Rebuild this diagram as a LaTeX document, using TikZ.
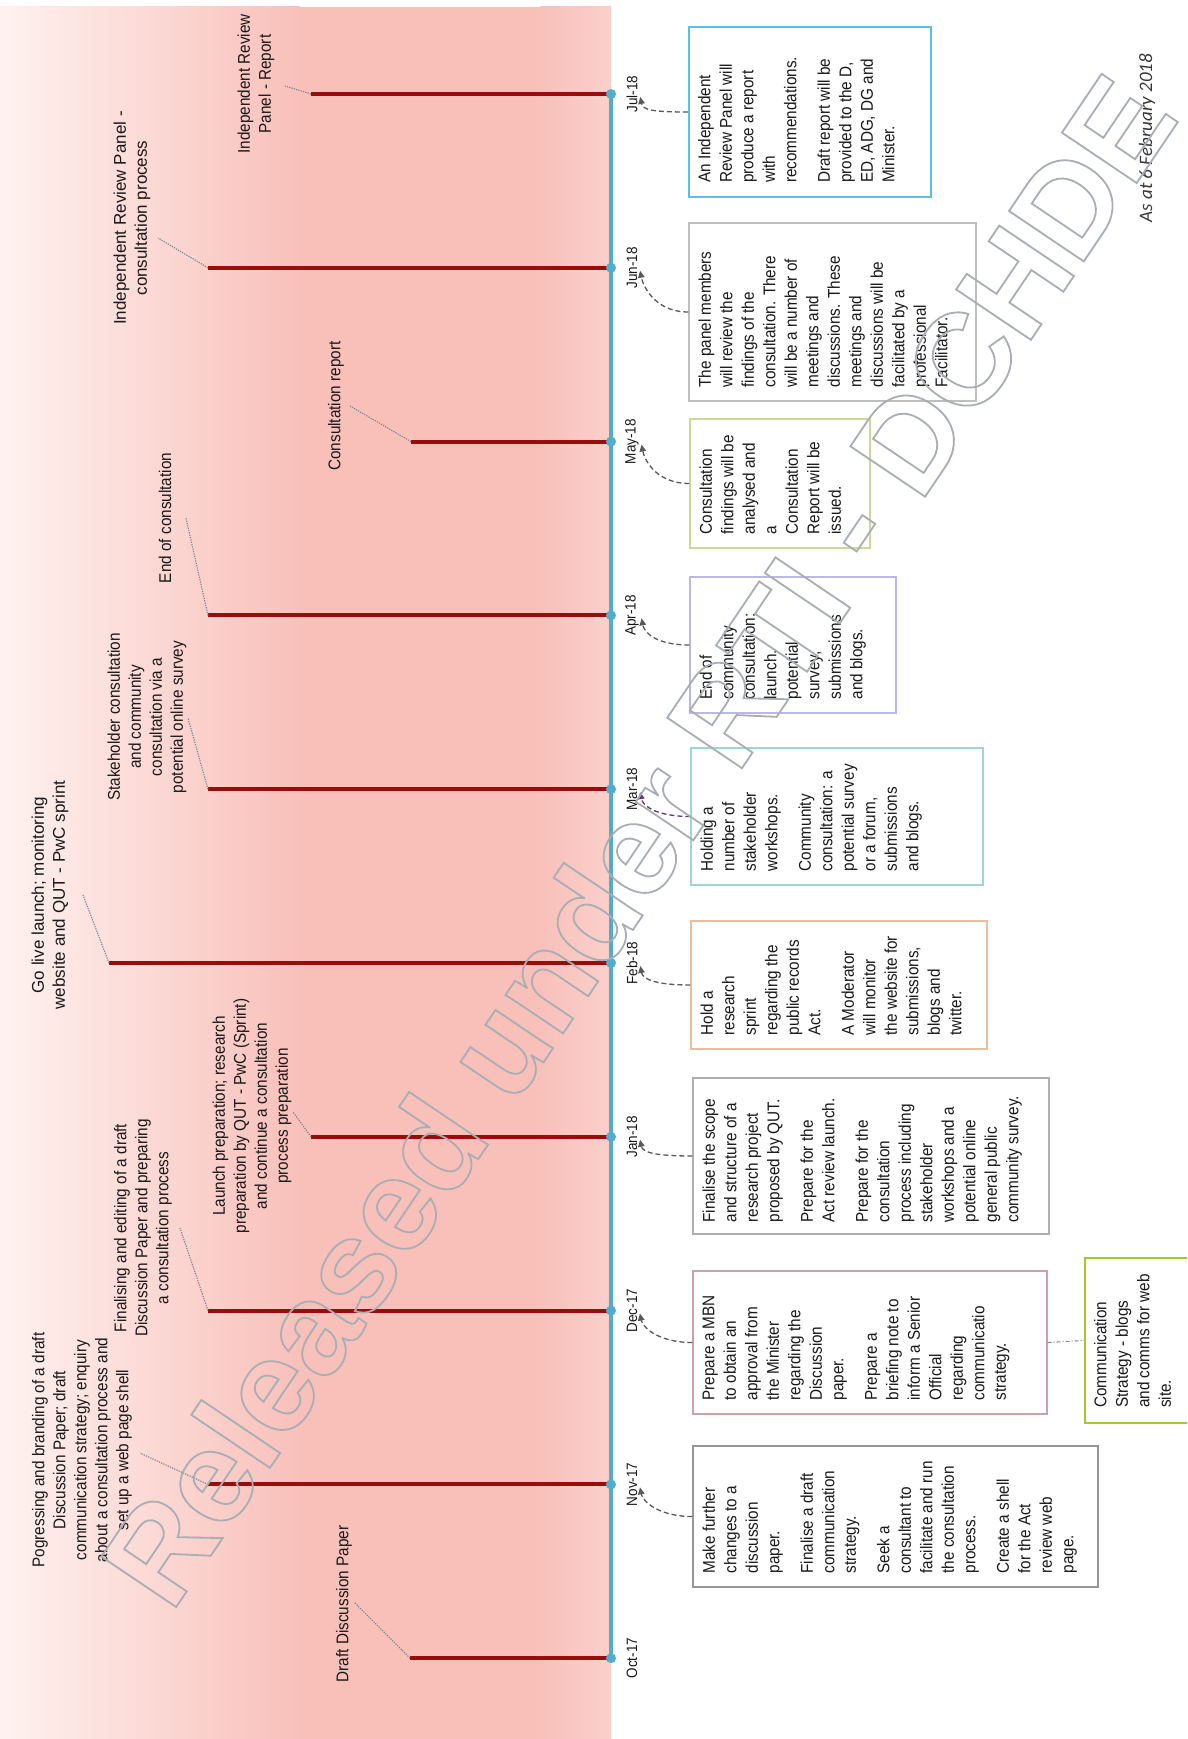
\documentclass[tikz,border=0pt]{standalone}
\usepackage{fontspec}
\setmainfont[FakeStretch=0.9]{Liberation Sans}
\newfontfamily\widefont{Liberation Sans}
\newfontfamily\calfont{Carlito}
\newfontfamily\wmfont{Liberation Sans}
\usetikzlibrary{arrows.meta}
\definecolor{pinkbg}{RGB}{249,192,186}
\definecolor{pinklight}{RGB}{254,242,240}
\definecolor{tlblue}{RGB}{82,172,204}
\definecolor{tlred}{RGB}{152,12,12}
\definecolor{leadc}{RGB}{115,130,140}
\definecolor{txt}{RGB}{25,25,25}
\definecolor{bJul}{RGB}{95,190,232}
\definecolor{bJun}{RGB}{190,190,190}
\definecolor{bMay}{RGB}{205,215,150}
\definecolor{bApr}{RGB}{185,185,228}
\definecolor{bMar}{RGB}{160,215,205}
\definecolor{bFeb}{RGB}{232,190,158}
\definecolor{bJan}{RGB}{175,175,175}
\definecolor{bDec}{RGB}{205,160,172}
\definecolor{bNov}{RGB}{150,150,150}
\definecolor{bCom}{RGB}{160,202,40}
\definecolor{wm}{RGB}{168,174,180}
\tikzset{
  tlbox/.style={draw, line width=1.3pt, inner sep=0pt},
  boxtext/.style={rotate=90, anchor=north west, align=left, inner sep=0pt, text=txt, font=\fontsize{17}{21.5}\selectfont},
  lab/.style={rotate=90, align=center, inner sep=1pt, text=txt, font=\fontsize{17}{21}\selectfont},
  month/.style={rotate=90, inner sep=2pt, text=txt, font=\fontsize{15}{18}\selectfont},
  tldot/.style={circle, fill=tlblue, inner sep=0pt, minimum size=10pt},
  redline/.style={tlred, line width=4pt},
  blueline/.style={tlblue, line width=4pt},
  leader/.style={leadc, line width=1.1pt, dash pattern=on 1.2pt off 1.2pt},
  tlarrow/.style={line width=1.3pt, draw=black!65, dash pattern=on 5pt off 3pt, -{Triangle[length=7pt,width=6.5pt]}, shorten >=3pt},
  conn/.style={line width=1.1pt, draw=black!45, dash pattern=on 4pt off 2pt on 1pt off 2pt},
}
\begin{document}
\begin{tikzpicture}[x=1pt,y=-1pt]
\path[use as bounding box] (0,0) rectangle (1187,1739);
\begin{scope}
\clip (0,0) rectangle (1187,1739);
\fill[white] (0,0) rectangle (1187,1739);
% pink background
\shade[left color=pinklight, right color=pinkbg] (0,7) rectangle (300,1739);
\fill[pinkbg] (299,7) rectangle (541,1739);
\shade[left color=pinkbg, right color=pinkbg!75!white] (540,7) rectangle (611,1739);

% dot centres
\coordinate (cJul) at (611,94);
\coordinate (cJun) at (611,267.8);
\coordinate (cMay) at (611,441.6);
\coordinate (cApr) at (611,615.4);
\coordinate (cMar) at (611,789.2);
\coordinate (cFeb) at (611,963);
\coordinate (cJan) at (611,1136.8);
\coordinate (cDec) at (611,1310.6);
\coordinate (cNov) at (611,1484.4);
\coordinate (cOct) at (611,1658.2);

% red line ends
\coordinate (eJul) at (311,94);
\coordinate (eJun) at (208,267.8);
\coordinate (eMay) at (411,441.6);
\coordinate (eApr) at (208,615.4);
\coordinate (eMar) at (208,789.2);
\coordinate (eFeb) at (109,963);
\coordinate (eJan) at (311,1136.8);
\coordinate (eDec) at (208,1310.6);
\coordinate (eNov) at (208,1484.4);
\coordinate (eOct) at (410,1658.2);

\draw[blueline] (cJul) -- (cOct);
\foreach \m in {Jul,Jun,May,Apr,Mar,Feb,Jan,Dec,Nov,Oct}{
  \draw[redline] (c\m) -- (e\m);
}
\foreach \m in {Jul,Jun,May,Apr,Mar,Feb,Jan,Dec,Nov,Oct}{
  \node[tldot] (d\m) at (c\m) {};
}

% event labels
\node[lab] (lOct) at (344,1604) {Draft Discussion Paper};
\node[lab] (lNov) at (82,1450) {Pogressing and branding of a draft\\Discussion Paper; draft\\communication strategy; enquiry\\about a consultation process and\\set up a web page shell};
\node[lab] (lDec) at (143,1228) {Finalising and editing of a draft\\Discussion Paper and preparing\\a consultation process};
\node[lab] (lJan) at (252,1116) {Launch preparation; research\\preparation by QUT - PwC (Sprint)\\and continue a consultation\\process preparation};
\node[lab, font=\widefont\fontsize{17}{21}\selectfont] (lFeb) at (50,895) {Go live launch; monitoring\\website and QUT - PwC sprint};
\node[lab] (lMar) at (147,717) {Stakeholder consultation\\and community\\consultation via a\\potential online survey};
\node[lab] (lApr) at (165,518) {End of consultation};
\node[lab] (lMay) at (336,406) {Consultation report};
\node[lab, font=\widefont\fontsize{17}{21}\selectfont] (lJun) at (132,218) {Independent Review Panel -\\consultation process};
\node[lab] (lJul) at (256,84) {Independent Review\\Panel - Report};

% leader end points
\coordinate (qOct) at (354,1602);
\coordinate (qNov) at (140,1453);
\coordinate (qDec) at (180,1228);
\coordinate (qJan) at (293,1112);
\coordinate (qFeb) at (83,895);
\coordinate (qMar) at (188,718);
\coordinate (qApr) at (186,518);
\coordinate (qMay) at (350,406);
\coordinate (qJun) at (158,238);
\coordinate (qJul) at (285,86);
\foreach \m in {Jul,Jun,May,Apr,Mar,Feb,Jan,Dec,Nov,Oct}{
  \draw[leader] (e\m) -- (q\m);
}

% month labels
\node[month] (mJul) at (632,94) {Jul-18};
\node[month] (mJun) at (632,267.8) {Jun-18};
\node[month] (mMay) at (632,441.6) {May-18};
\node[month] (mApr) at (632,615.4) {Apr-18};
\node[month] (mMar) at (632,789.2) {Mar-18};
\node[month] (mFeb) at (632,963) {Feb-18};
\node[month] (mJan) at (632,1136.8) {Jan-18};
\node[month] (mDec) at (632,1310.6) {Dec-17};
\node[month] (mNov) at (632,1484.4) {Nov-17};
\node[month] (mOct) at (632,1658.2) {Oct-17};

% description boxes
\node[tlbox, draw=bJul, line width=2.2pt, minimum width=242pt, minimum height=170pt] (bJul) at (810,112) {};
\node[tlbox, draw=bJun, minimum width=287pt, minimum height=178pt] (bJun) at (832.5,312) {};
\node[tlbox, draw=bMay, minimum width=180pt, minimum height=129pt] (bMay) at (780,483.5) {};
\node[tlbox, draw=bApr, minimum width=206pt, minimum height=136pt] (bApr) at (793,645) {};
\node[tlbox, draw=bMar, minimum width=292pt, minimum height=137pt] (bMar) at (837,816.5) {};
\node[tlbox, draw=bFeb, minimum width=296pt, minimum height=128pt] (bFeb) at (839,985) {};
\node[tlbox, draw=bJan, minimum width=356pt, minimum height=156pt] (bJan) at (871,1156) {};
\node[tlbox, draw=bDec, minimum width=354pt, minimum height=143pt] (bDec) at (870,1342.5) {};
\node[tlbox, draw=bNov, minimum width=405pt, minimum height=141pt] (bNov) at (895.5,1516.5) {};
\node[tlbox, draw=bCom, line width=2.2pt, minimum width=120pt, minimum height=165pt] (bCom) at (1145,1340.5) {};

\node[boxtext] (tJul) at ([xshift=10pt,yshift=15pt]bJul.south west) {An Independent\\Review Panel will\\produce a report\\with\\recommendations.\\[12pt]Draft report will be\\provided to the D,\\ED, ADG, DG and\\Minister.};
\node[boxtext] (tJun) at ([xshift=10pt,yshift=14pt]bJun.south west) {The panel members\\will review the\\findings of the\\consultation. There\\will be a number of\\meetings and\\discussions. These\\meetings and\\discussions will be\\facilitated by a\\professional\\Facilitator.};
\node[boxtext] (tMay) at ([xshift=10pt,yshift=14pt]bMay.south west) {Consultation\\findings will be\\analysed and\\a\\Consultation\\Report will be\\issued.};
\node[boxtext] (tApr) at ([xshift=10pt,yshift=14pt]bApr.south west) {End of\\community\\consultation:\\launch,\\potential\\survey,\\submissions\\and blogs.};
\node[boxtext] (tMar) at ([xshift=10pt,yshift=14pt]bMar.south west) {Holding a\\number of\\stakeholder\\workshops.\\[12pt]Community\\consultation: a\\potential survey\\or a forum,\\submissions\\and blogs.};
\node[boxtext] (tFeb) at ([xshift=10pt,yshift=14pt]bFeb.south west) {Hold a\\research\\sprint\\regarding the\\public records\\Act.\\[12pt]A Moderator\\will monitor\\the website for\\submissions,\\blogs and\\twitter.};
\node[boxtext] (tJan) at ([xshift=10pt,yshift=12pt]bJan.south west) {Finalise the scope\\and structure of a\\research project\\proposed by QUT.\\[12pt]Prepare for the\\Act review launch.\\[12pt]Prepare for the\\consultation\\process including\\stakeholder\\workshops and a\\potential online\\general public\\community survey.};
\node[boxtext] (tDec) at ([xshift=10pt,yshift=14pt]bDec.south west) {Prepare a MBN\\to obtain an\\approval from\\the Minister\\regarding the\\Discussion\\paper.\\[12pt]Prepare a\\briefing note to\\inform a Senior\\Official\\regarding\\communicatio\\strategy.};
\node[boxtext] (tNov) at ([xshift=10pt,yshift=14pt]bNov.south west) {Make further\\changes to a\\discussion\\paper.\\[12pt]Finalise a draft\\communication\\strategy.\\[12pt]Seek a\\consultant to\\facilitate and run\\the consultation\\process.\\[12pt]Create a shell\\for the Act\\review web\\page.};
\node[boxtext] (tCom) at ([xshift=10pt,yshift=16pt]bCom.south west) {Communication\\Strategy - blogs\\and comms for web\\site.};

% curved arrows from boxes to months
\foreach \m in {Jul,Jun,May,Apr,Feb,Jan,Dec,Nov}{
  \draw[tlarrow] (b\m.west) .. controls +(-35,0) and +(3,16) .. (m\m.south);
}
\draw[tlarrow, draw={rgb,255:red,95;green,55;blue,120}] (bMar.west) .. controls +(-35,0) and +(3,16) .. (mMar.south);

\draw[conn] (bDec.east) -- (bCom.west);

\node[rotate=90, inner sep=0pt, text=black!78, font=\calfont\itshape\fontsize{19}{23}\selectfont] (asat) at (1147,138) {As at 6 February 2018};

% watermark
\node[rotate=56, anchor=base, inner sep=0pt, text=wm, font=\wmfont\bfseries\fontsize{131}{131}\selectfont] (wmark) at (676,866) {\special{pdf:literal direct 1 Tr 1.8 w}Released under RTI - DCHDE\special{pdf:literal direct 0 Tr}};
\end{scope}
\end{tikzpicture}
\end{document}
